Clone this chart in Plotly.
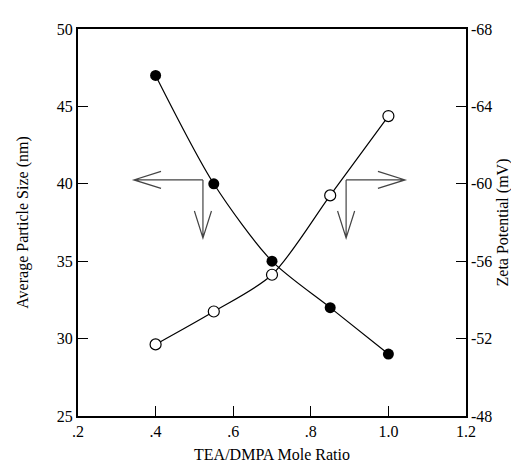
import plotly.graph_objects as go

# data
mole_ratio = [0.4, 0.55, 0.7, 0.85, 1.0]
particle_size = [47.0, 40.0, 35.0, 32.0, 29.0]
zeta_potential = [-51.7, -53.4, -55.3, -59.4, -63.5]

x_tickvals = [0.2, 0.4, 0.6, 0.8, 1.0, 1.2]
x_ticktext = [".2", ".4", ".6", ".8", "1.0", "1.2"]
y1_tickvals = [25, 30, 35, 40, 45, 50]
y2_tickvals = [-48, -52, -56, -60, -64, -68]
y2_ticktext = ["-48", "-52", "-56", "-60", "-64", "-68"]

# indicator arrows (corner x, horizontal tip x) in axis units, y in left-axis units
arrow_corner_x = [0.522, 0.891]
arrow_tip_x = [0.344, 1.043]
arrow_y = 40.25
arrow_down_tip_y = 36.5

FONT = "Liberation Serif"

fig = go.Figure()
fig.add_trace(go.Scatter(
    x=mole_ratio, y=particle_size, mode="lines+markers",
    line=dict(color="black", width=1.2, shape="spline", smoothing=0.8),
    marker=dict(symbol="circle", size=11, color="black"),
    showlegend=False, yaxis="y"))
fig.add_trace(go.Scatter(
    x=mole_ratio, y=zeta_potential, mode="lines+markers",
    line=dict(color="black", width=1.2, shape="spline", smoothing=0.8),
    marker=dict(symbol="circle", size=11, color="white", line=dict(color="black", width=1.2)),
    showlegend=False, yaxis="y2"))

# arrows
hx = 0.07   # arrowhead length in x units
hyw = 0.55  # arrowhead half-width in y units
hy = 1.74   # arrowhead length in y units
hxw = 0.022 # arrowhead half-width in x units
shapes = []
acol = "#444444"
for cx, tx in zip(arrow_corner_x, arrow_tip_x):
    d = 1 if tx > cx else -1
    path = (f"M {cx},{arrow_y} L {tx},{arrow_y} "
            f"M {tx - d*hx},{arrow_y + hyw} L {tx},{arrow_y} L {tx - d*hx},{arrow_y - hyw} "
            f"M {cx},{arrow_y} L {cx},{arrow_down_tip_y} "
            f"M {cx - hxw},{arrow_down_tip_y + hy} L {cx},{arrow_down_tip_y} L {cx + hxw},{arrow_down_tip_y + hy}")
    shapes.append(dict(type="path", path=path, xref="x", yref="y",
                       line=dict(color=acol, width=1.2)))

fig.update_layout(
    width=519, height=470,
    margin=dict(l=70, r=61, t=21, b=62, autoexpand=False),
    paper_bgcolor="white", plot_bgcolor="white",
    font=dict(family=FONT, size=16, color="black"),
    shapes=shapes,
    xaxis=dict(range=[0.2, 1.2], tickvals=x_tickvals, ticktext=x_ticktext,
               ticks="inside", ticklen=10, tickwidth=1, tickcolor="black",
               showline=True, linecolor="black", linewidth=2, mirror=True,
               showgrid=False, zeroline=False, automargin=False,
               title=dict(text="TEA/DMPA Mole Ratio", standoff=10, font=dict(size=16))),
    yaxis=dict(range=[25, 50], tickvals=y1_tickvals,
               ticks="inside", ticklen=10, tickwidth=1, tickcolor="black",
               showline=True, linecolor="black", linewidth=2,
               showgrid=False, zeroline=False, automargin=False,
               title=dict(text="Average Particle Size (nm)", standoff=24, font=dict(size=16))),
    yaxis2=dict(range=[-48, -68], tickvals=y2_tickvals, ticktext=y2_ticktext,
                overlaying="y", side="right",
                ticks="inside", ticklen=10, tickwidth=1, tickcolor="black",
                showline=True, linecolor="black", linewidth=1.5,
                showgrid=False, zeroline=False, automargin=False,
                title=dict(text="Zeta Potential (mV)", standoff=6, font=dict(size=16))),
)

fig.write_html("out.html")
